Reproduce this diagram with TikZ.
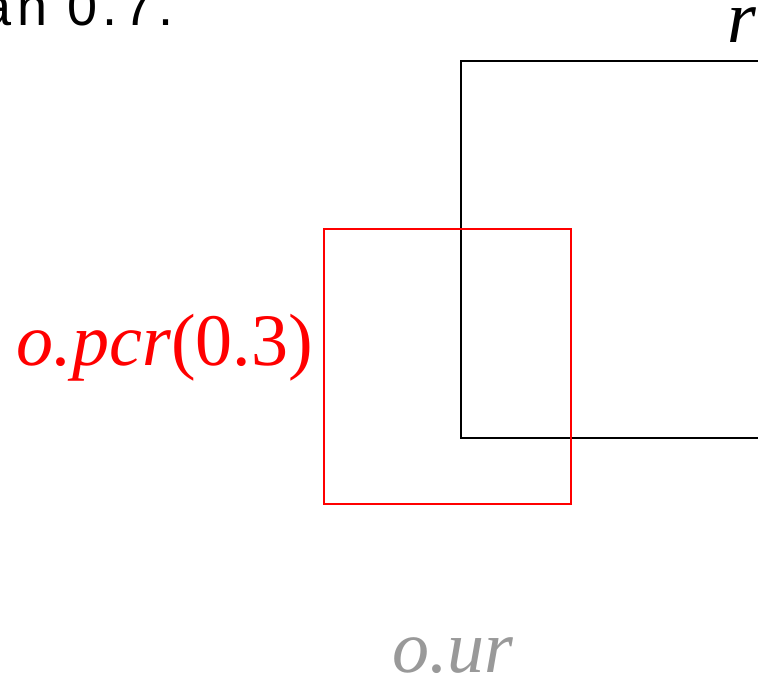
\documentclass[tikz,border=0pt]{standalone}
\usepackage{fontspec}
\setmainfont{Liberation Serif}
\newfontfamily\capsans{Liberation Sans}[LetterSpace=10]
\definecolor{urgray}{RGB}{153,153,153}
\begin{document}
\begin{tikzpicture}[x=1bp,y=-1bp,
  box/.style={line width=2bp},
  lbl/.style={inner sep=0pt, font=\fontsize{74bp}{80bp}\selectfont}]
\useasboundingbox (0,0) rectangle (758,675);
\begin{scope}
\clip (0,0) rectangle (758,675);
\draw[box,black] (461,61) rectangle (838,438);
\draw[box,red] (324,229) rectangle (571,504);
\node[lbl,anchor=base west] (rlabel) at (727,43) {\textit{r}};
\node[lbl,red,anchor=base east] (pcr) at (313,365) {\textit{o.pcr}(0.3)};
\node[lbl,urgray,anchor=base west] (ur) at (392,672) {\textit{o.ur}};
\node[inner sep=0pt,anchor=base east,font=\capsans\fontsize{54bp}{58bp}\selectfont] (cap) at (174,26) {an 0.7.};
\end{scope}
\end{tikzpicture}
\end{document}
